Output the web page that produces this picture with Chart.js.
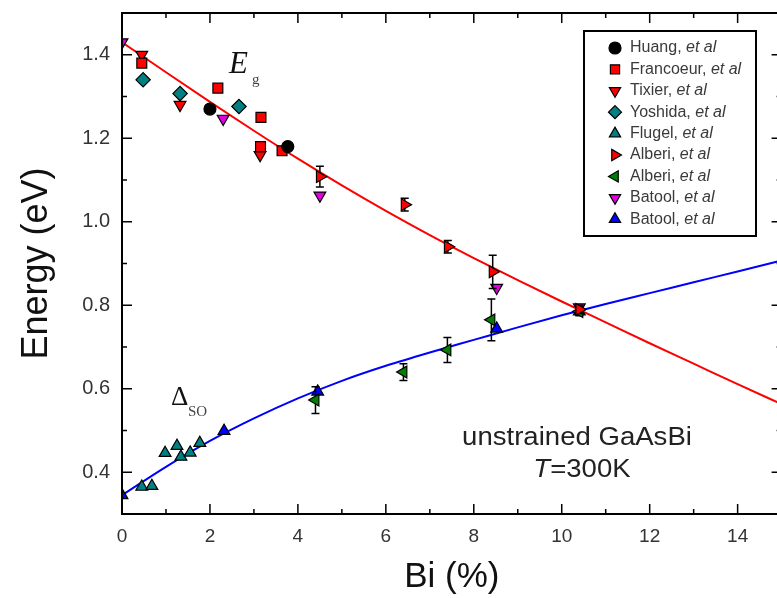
<!DOCTYPE html>
<html>
<head>
<meta charset="utf-8">
<title>GaAsBi band gap and spin-orbit splitting</title>
<script src="https://cdn.jsdelivr.net/npm/chart.js@4.4.1/dist/chart.umd.min.js"></script>
<style>
    html, body { margin: 0; padding: 0; background: #fff; overflow: hidden; }
    #wrap { width: 790px; height: 598px; }
</style>
</head>
<body>
<div id="wrap"><canvas id="chart" width="790" height="598"></canvas></div>
<script>
// DATA

const xTicks = [0, 2, 4, 6, 8, 10, 12, 14];
const yTicks = [0.4, 0.6, 0.8, 1.0, 1.2, 1.4];

const huangX = [2.0, 3.77];
const huangY = [1.27, 1.18];

const francoeurX = [0.45, 2.18, 3.16, 3.15, 3.64];
const francoeurY = [1.38, 1.32, 1.25, 1.18, 1.17];

const tixierX = [0.45, 1.32, 3.14];
const tixierY = [1.40, 1.28, 1.16];

const yoshidaX = [0.48, 1.32, 2.66];
const yoshidaY = [1.34, 1.307, 1.276];

const flugelX = [0.45, 0.68, 0.98, 1.25, 1.34, 1.55, 1.77];
const flugelY = [0.365, 0.367, 0.446, 0.463, 0.437, 0.447, 0.47];

const alberiEgX = [4.5, 6.43, 7.41, 8.43, 10.4];
const alberiEgY = [1.108, 1.041, 0.94, 0.88, 0.79];
const alberiEgErr = [0.025, 0.015, 0.015, 0.04, 0.01];

const alberiSoX = [4.4, 6.4, 7.4, 8.4, 10.4];
const alberiSoY = [0.573, 0.64, 0.693, 0.765, 0.785];
const alberiSoErr = [0.032, 0.02, 0.03, 0.05, 0.01];

const batoolEgX = [0, 2.3, 4.5, 8.52, 10.4];
const batoolEgY = [1.43, 1.247, 1.063, 0.842, 0.795];

const batoolSoX = [0, 2.32, 4.45, 8.52, 10.4];
const batoolSoY = [0.345, 0.499, 0.593, 0.744, 0.785];

// fitted curves
const fitX = [0, 1, 2, 3, 4, 5, 6, 7, 8, 9, 10, 11, 12, 13, 14, 15];
const egFit = [1.43, 1.358, 1.287, 1.218, 1.151, 1.087, 1.026, 0.968, 0.913, 0.86, 0.809, 0.759, 0.709, 0.66, 0.611, 0.563];
const soFit = [0.345, 0.413, 0.475, 0.529, 0.577, 0.619, 0.655, 0.687, 0.717, 0.747, 0.776, 0.803, 0.829, 0.855, 0.881, 0.907];

// HELPERS

function toPoints(xs, ys) {
    return xs.map((x, i) => ({ x: x, y: ys[i] }));
}

function markerSet(label, xs, ys, style, rotation, color, radius, errs) {
    return {
        label: label,
        data: toPoints(xs, ys),
        showLine: false,
        pointStyle: style,
        pointRotation: rotation,
        pointRadius: radius,
        pointHoverRadius: radius,
        pointBackgroundColor: color,
        pointBorderColor: "#000",
        pointBorderWidth: 1.2,
        errorBars: errs || null
    };
}

function fitSet(label, ys, color) {
    return {
        label: label,
        isFit: true,
        data: toPoints(fitX, ys),
        showLine: true,
        borderColor: color,
        borderWidth: 2,
        pointRadius: 0,
        pointHoverRadius: 0,
        cubicInterpolationMode: "monotone",
        fill: false
    };
}

const SANS = "'Liberation Sans', Arial, sans-serif";
const SERIF = "'Liberation Serif', 'Times New Roman', serif";

// PLUGINS

const errorBarPlugin = {
    id: "errorBars",
    beforeDatasetDraw(chart, args) {
        const ds = chart.data.datasets[args.index];
        if (!ds.errorBars) return;
        const { ctx, scales } = chart;
        ctx.save();
        ctx.strokeStyle = "#000";
        ctx.lineWidth = 1.5;
        ctx.beginPath();
        ds.data.forEach((p, i) => {
            const px = scales.x.getPixelForValue(p.x);
            const top = scales.y.getPixelForValue(p.y + ds.errorBars[i]);
            const bot = scales.y.getPixelForValue(p.y - ds.errorBars[i]);
            ctx.moveTo(px, top); ctx.lineTo(px, bot);
            ctx.moveTo(px - 4, top); ctx.lineTo(px + 4, top);
            ctx.moveTo(px - 4, bot); ctx.lineTo(px + 4, bot);
        });
        ctx.stroke();
        ctx.restore();
    }
};

const framePlugin = {
    id: "frame",
    afterDraw(chart) {
        const { ctx, chartArea: a, scales } = chart;
        ctx.save();
        ctx.strokeStyle = "#000";
        ctx.lineWidth = 2;
        ctx.strokeRect(a.left, a.top, a.right - a.left, a.bottom - a.top);

        ctx.lineWidth = 1.5;
        ctx.beginPath();
        const xStep = xTicks[1] - xTicks[0];
        const xMarks = [];
        xTicks.forEach(v => { xMarks.push([v, 10], [v + xStep / 2, 5]); });
        xMarks.forEach(([t, len]) => {
            const px = scales.x.getPixelForValue(t);
            ctx.moveTo(px, a.bottom); ctx.lineTo(px, a.bottom - len);
            ctx.moveTo(px, a.top); ctx.lineTo(px, a.top + len);
        });
        const yStep = yTicks[1] - yTicks[0];
        const yMarks = [[yTicks[0] - yStep / 2, 5]];
        yTicks.forEach(v => { yMarks.push([v, 10], [v + yStep / 2, 5]); });
        yMarks.forEach(([t, len]) => {
            const py = scales.y.getPixelForValue(t);
            ctx.moveTo(a.left, py); ctx.lineTo(a.left + len, py);
            ctx.moveTo(a.right, py); ctx.lineTo(a.right - len, py);
        });
        ctx.stroke();
        ctx.restore();
    }
};

const labelPlugin = {
    id: "labels",
    afterDraw(chart) {
        const { ctx } = chart;
        ctx.save();
        ctx.fillStyle = "#111";
        ctx.textBaseline = "alphabetic";
        ctx.textAlign = "left";

        ctx.font = "italic 31px " + SERIF;
        ctx.fillText("E", 229, 73);
        ctx.fillStyle = "#444";
        ctx.font = "15px " + SERIF;
        ctx.fillText("g", 252, 84);

        ctx.fillStyle = "#111";
        ctx.font = "27px " + SERIF;
        ctx.fillText("\u0394", 171, 405);
        ctx.fillStyle = "#444";
        ctx.font = "15px " + SERIF;
        ctx.fillText("SO", 188, 416);

        // slightly stretched sans text, like the source figure
        ctx.fillStyle = "#222";
        ctx.save();
        ctx.translate(577, 445);
        ctx.scale(1.06, 1);
        ctx.font = "26px " + SANS;
        ctx.textAlign = "center";
        ctx.fillText("unstrained GaAsBi", 0, 0);
        ctx.restore();

        ctx.save();
        ctx.translate(582, 477);
        ctx.scale(1.06, 1);
        ctx.textAlign = "left";
        ctx.font = "italic 26px " + SANS;
        const tW = ctx.measureText("T").width;
        ctx.font = "26px " + SANS;
        const restW = ctx.measureText("=300K").width;
        const x0 = -(tW + restW) / 2;
        ctx.font = "italic 26px " + SANS;
        ctx.fillText("T", x0, 0);
        ctx.font = "26px " + SANS;
        ctx.fillText("=300K", x0 + tW, 0);
        ctx.restore();

        ctx.restore();
    }
};

const legendPlugin = {
    id: "paperLegend",
    afterDraw(chart) {
        const { ctx } = chart;
        const sets = chart.data.datasets.filter(ds => !ds.isFit);
        const left = 584, top = 31, right = 756, bottom = 236;
        ctx.save();
        ctx.fillStyle = "#fff";
        ctx.fillRect(left, top, right - left, bottom - top);
        ctx.strokeStyle = "#000";
        ctx.lineWidth = 2;
        ctx.strokeRect(left, top, right - left, bottom - top);

        sets.forEach((ds, i) => {
            const y = 48 + i * 21.4;
            ctx.fillStyle = ds.pointBackgroundColor;
            ctx.strokeStyle = "#000";
            ctx.lineWidth = 1.2;
            Chart.helpers.drawPoint(ctx, {
                pointStyle: ds.pointStyle,
                rotation: ds.pointRotation,
                radius: Math.min(ds.pointRadius, 6.5),
                borderWidth: 1.2
            }, 615, y);

            const parts = ds.label.split(", ");
            ctx.fillStyle = "#3a3a3a";
            ctx.textBaseline = "middle";
            ctx.font = "16px " + SANS;
            ctx.fillText(parts[0] + ", ", 630, y);
            const w = ctx.measureText(parts[0] + ", ").width;
            ctx.font = "italic 16px " + SANS;
            ctx.fillText(parts[1], 630 + w, y);
        });
        ctx.restore();
    }
};

// CHART

new Chart(document.getElementById("chart"), {
    type: "scatter",
    data: {
        datasets: [
            markerSet("Huang, et al", huangX, huangY, "circle", 0, "#000", 6),
            markerSet("Francoeur, et al", francoeurX, francoeurY, "rect", 0, "#ff0000", 7),
            markerSet("Tixier, et al", tixierX, tixierY, "triangle", 180, "#ff0000", 6.8),
            markerSet("Yoshida, et al", yoshidaX, yoshidaY, "rectRot", 0, "#008080", 7.2),
            markerSet("Flugel, et al", flugelX, flugelY, "triangle", 0, "#008080", 6.8),
            markerSet("Alberi, et al", alberiEgX, alberiEgY, "triangle", 90, "#ff0000", 6.8, alberiEgErr),
            markerSet("Alberi, et al", alberiSoX, alberiSoY, "triangle", 270, "#008000", 6.8, alberiSoErr),
            markerSet("Batool, et al", batoolEgX, batoolEgY, "triangle", 180, "#e000e0", 6.8),
            markerSet("Batool, et al", batoolSoX, batoolSoY, "triangle", 0, "#0000ff", 6.8),
            fitSet("Eg fit", egFit, "#ff0000"),
            fitSet("SO fit", soFit, "#0000ff")
        ]
    },
    options: {
        responsive: false,
        animation: false,
        events: [],
        layout: { padding: { top: 13, right: 8, left: 0, bottom: 0 } },
        plugins: { legend: { display: false }, tooltip: { enabled: false } },
        scales: {
            x: {
                type: "linear",
                min: 0,
                max: 15,
                grid: { display: false },
                border: { display: false },
                afterBuildTicks: scale => { scale.ticks = xTicks.map(v => ({ value: v })); },
                afterFit: scale => { scale.height = 84; },
                ticks: {
                    padding: 3,
                    color: "#333",
                    font: { family: SANS, size: 19 },
                    callback: v => String(v)
                },
                title: {
                    display: true,
                    text: "Bi (%)",
                    color: "#111",
                    font: { family: SANS, size: 35 },
                    padding: { top: 0, bottom: 0 }
                }
            },
            y: {
                type: "linear",
                min: 0.3,
                max: 1.5,
                // invisible tick marks only push the labels away from the axis
                grid: {
                    display: true,
                    drawOnChartArea: false,
                    drawTicks: true,
                    tickLength: 12,
                    tickColor: "rgba(0,0,0,0)",
                    color: "rgba(0,0,0,0)"
                },
                border: { display: false },
                afterBuildTicks: scale => { scale.ticks = yTicks.map(v => ({ value: v })); },
                afterFit: scale => { scale.width = 122; },
                ticks: {
                    padding: 0,
                    color: "#333",
                    font: { family: SANS, size: 20 },
                    callback: v => Number(v).toFixed(1)
                },
                title: {
                    display: true,
                    text: "Energy (eV)",
                    color: "#111",
                    font: { family: SANS, size: 36 },
                    padding: { top: 15, bottom: 0 }
                }
            }
        }
    },
    plugins: [errorBarPlugin, framePlugin, labelPlugin, legendPlugin]
});
</script>
</body>
</html>
